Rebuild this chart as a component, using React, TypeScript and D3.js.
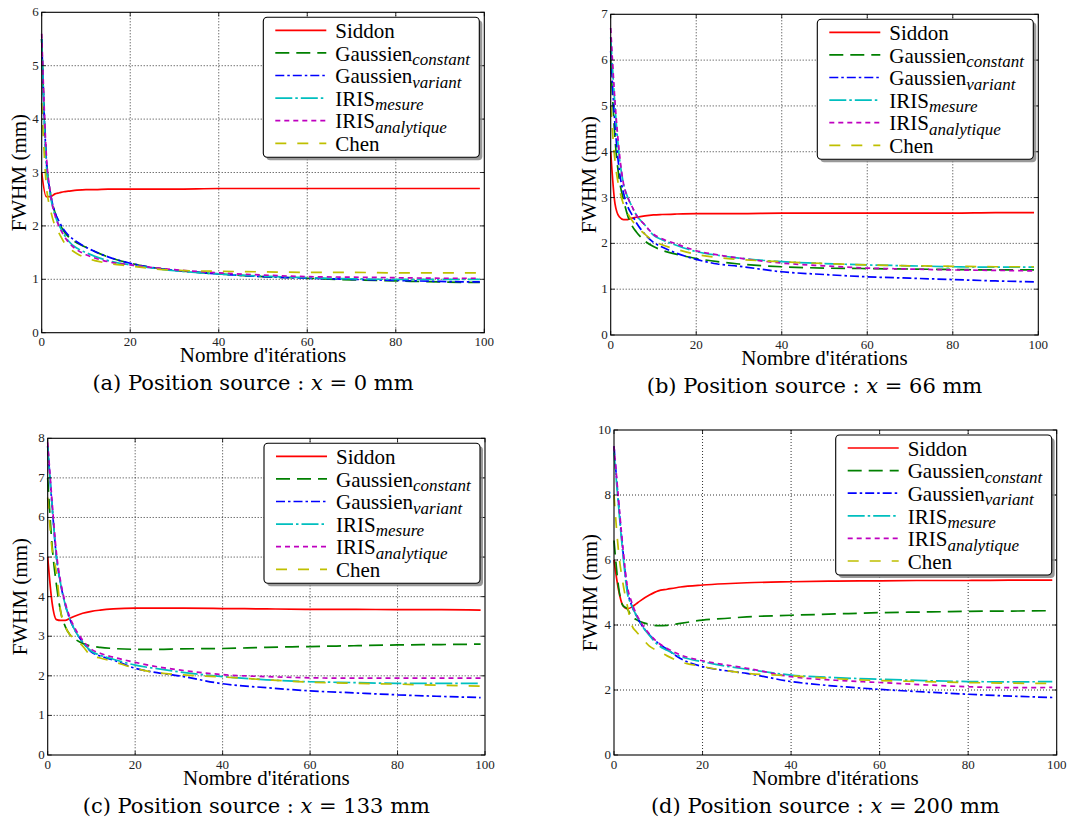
import React from 'react';
import * as d3 from 'd3';

// Iterations at which values were read
const ITER = [0, 1, 2, 3, 4, 5, 6, 8, 10, 12, 15, 20, 25, 30, 40, 50, 60, 70, 80, 90, 99];

const X_TICKS = [0, 20, 40, 60, 80, 100];
const SERIES_NAMES = ['Siddon', 'Gaussien', 'Gaussien', 'IRIS', 'IRIS', 'Chen'];
const SERIES_SUBS = ['', 'constant', 'variant', 'mesure', 'analytique', ''];
const X_LABEL = "Nombre d'itérations";
const Y_LABEL = 'FWHM (mm)';

// (a) x = 0 mm
const A_SIDDON = [3.0, 2.55, 2.55, 2.6, 2.62, 2.64, 2.65, 2.67, 2.68, 2.68, 2.69, 2.69, 2.69, 2.69, 2.7, 2.7, 2.7, 2.7, 2.7, 2.7, 2.7];
const A_GCONST = [5.5, 3.3, 2.6, 2.25, 2.05, 1.9, 1.8, 1.68, 1.6, 1.52, 1.42, 1.3, 1.22, 1.17, 1.1, 1.05, 1.02, 0.99, 0.97, 0.95, 0.94];
const A_GVAR = [5.5, 3.3, 2.6, 2.25, 2.07, 1.93, 1.83, 1.7, 1.6, 1.52, 1.42, 1.3, 1.22, 1.17, 1.1, 1.05, 1.02, 1.0, 0.98, 0.96, 0.95];
const A_IRISM = [5.5, 3.2, 2.55, 2.2, 2.0, 1.85, 1.72, 1.58, 1.5, 1.43, 1.35, 1.27, 1.21, 1.16, 1.1, 1.06, 1.03, 1.01, 1.0, 1.0, 1.0];
const A_IRISA = [5.6, 3.4, 2.6, 2.2, 1.98, 1.82, 1.7, 1.55, 1.46, 1.4, 1.33, 1.27, 1.22, 1.18, 1.12, 1.08, 1.05, 1.04, 1.03, 1.02, 1.02];
const A_CHEN = [4.3, 2.8, 2.3, 2.0, 1.85, 1.7, 1.6, 1.48, 1.4, 1.35, 1.3, 1.25, 1.2, 1.17, 1.15, 1.14, 1.13, 1.13, 1.12, 1.12, 1.12];

// (b) x = 66 mm
const B_SIDDON = [4.0, 2.87, 2.58, 2.52, 2.52, 2.55, 2.57, 2.6, 2.62, 2.63, 2.64, 2.65, 2.65, 2.65, 2.66, 2.66, 2.66, 2.66, 2.66, 2.67, 2.67];
const B_GCONST = [6.0, 4.3, 3.4, 2.95, 2.6, 2.38, 2.25, 2.05, 1.93, 1.85, 1.77, 1.67, 1.6, 1.55, 1.49, 1.46, 1.45, 1.44, 1.43, 1.42, 1.42];
const B_GVAR = [6.2, 4.6, 3.6, 3.1, 2.8, 2.62, 2.45, 2.2, 2.02, 1.92, 1.8, 1.65, 1.55, 1.5, 1.38, 1.32, 1.27, 1.24, 1.21, 1.18, 1.16];
const B_IRISM = [6.5, 5.0, 3.9, 3.3, 3.0, 2.8, 2.62, 2.4, 2.18, 2.08, 1.97, 1.82, 1.74, 1.68, 1.6, 1.56, 1.53, 1.51, 1.49, 1.48, 1.48];
const B_IRISA = [6.7, 5.1, 4.0, 3.3, 3.0, 2.8, 2.62, 2.4, 2.2, 2.1, 2.0, 1.84, 1.75, 1.68, 1.57, 1.51, 1.46, 1.44, 1.42, 1.41, 1.4];
const B_CHEN = [5.0, 3.8, 3.2, 2.85, 2.65, 2.5, 2.38, 2.2, 2.05, 1.97, 1.88, 1.76, 1.69, 1.65, 1.6, 1.56, 1.53, 1.51, 1.5, 1.49, 1.49];

// (c) x = 133 mm
const C_SIDDON = [5.0, 3.85, 3.42, 3.4, 3.4, 3.45, 3.5, 3.58, 3.63, 3.66, 3.69, 3.71, 3.71, 3.71, 3.7, 3.69, 3.68, 3.68, 3.67, 3.67, 3.66];
const C_GCONST = [7.0, 5.3, 4.3, 3.6, 3.25, 3.05, 2.95, 2.82, 2.75, 2.72, 2.69, 2.67, 2.67, 2.68, 2.69, 2.72, 2.74, 2.76, 2.78, 2.79, 2.8];
const C_GVAR = [7.8, 6.3, 5.0, 4.3, 3.8, 3.45, 3.2, 2.85, 2.6, 2.5, 2.4, 2.19, 2.08, 2.0, 1.8, 1.7, 1.62, 1.57, 1.52, 1.48, 1.45];
const C_IRISM = [7.8, 6.3, 5.0, 4.3, 3.8, 3.45, 3.2, 2.85, 2.62, 2.52, 2.42, 2.27, 2.18, 2.1, 1.98, 1.9, 1.85, 1.83, 1.81, 1.81, 1.81];
const C_IRISA = [7.9, 6.4, 5.1, 4.35, 3.85, 3.5, 3.25, 2.9, 2.67, 2.57, 2.47, 2.34, 2.23, 2.15, 2.03, 1.98, 1.95, 1.94, 1.94, 1.94, 1.94];
const C_CHEN = [6.5, 5.2, 4.6, 3.6, 3.25, 3.05, 2.95, 2.75, 2.5, 2.45, 2.36, 2.19, 2.08, 2.03, 1.97, 1.9, 1.84, 1.81, 1.79, 1.76, 1.74];

// (d) x = 200 mm
const D_SIDDON = [6.0, 5.1, 4.6, 4.5, 4.55, 4.65, 4.75, 4.92, 5.05, 5.1, 5.17, 5.23, 5.27, 5.3, 5.33, 5.35, 5.36, 5.37, 5.37, 5.38, 5.38];
const D_GCONST = [6.6, 5.2, 4.6, 4.5, 4.25, 4.17, 4.1, 4.02, 3.98, 3.99, 4.05, 4.15, 4.2, 4.25, 4.3, 4.34, 4.38, 4.4, 4.42, 4.43, 4.44];
const D_GVAR = [9.5, 7.8, 6.3, 5.1, 4.6, 4.3, 4.05, 3.7, 3.44, 3.25, 2.97, 2.72, 2.6, 2.51, 2.26, 2.12, 2.02, 1.94, 1.87, 1.81, 1.77];
const D_IRISM = [9.3, 7.7, 6.2, 5.0, 4.6, 4.3, 4.05, 3.68, 3.38, 3.22, 3.03, 2.87, 2.74, 2.64, 2.46, 2.38, 2.33, 2.29, 2.26, 2.25, 2.26];
const D_IRISA = [9.5, 7.9, 6.4, 5.2, 4.7, 4.35, 4.1, 3.72, 3.45, 3.28, 3.08, 2.9, 2.78, 2.67, 2.41, 2.3, 2.23, 2.16, 2.1, 2.07, 2.08];
const D_CHEN = [8.0, 6.3, 5.3, 4.6, 4.0, 3.8, 3.65, 3.35, 3.2, 3.05, 2.87, 2.72, 2.6, 2.51, 2.44, 2.35, 2.29, 2.26, 2.23, 2.21, 2.2];

const STYLES = [
  { color: '#ff0000', dash: '' },
  { color: '#008000', dash: '14,7' },
  { color: '#0000ff', dash: '9,3,2.5,3' },
  { color: '#00bfbf', dash: '17,3,2.5,3' },
  { color: '#bf00bf', dash: '5,4' },
  { color: '#bfbf00', dash: '11,11' },
];

const PANELS = [
  { id: 'a', caption: 'Position source : ', pos: '0', yMax: 6, left: 41.7, right: 484.3, top: 12.3, bottom: 332.7, yLabelX: 26,
    series: [A_SIDDON, A_GCONST, A_GVAR, A_IRISM, A_IRISA, A_CHEN] },
  { id: 'b', caption: 'Position source : ', pos: '66', yMax: 7, left: 610.7, right: 1038.3, top: 14.3, bottom: 335, yLabelX: 596,
    series: [B_SIDDON, B_GCONST, B_GVAR, B_IRISM, B_IRISA, B_CHEN] },
  { id: 'c', caption: 'Position source : ', pos: '133', yMax: 8, left: 47.7, right: 485, top: 438.3, bottom: 755, yLabelX: 26.5,
    series: [C_SIDDON, C_GCONST, C_GVAR, C_IRISM, C_IRISA, C_CHEN] },
  { id: 'd', caption: 'Position source : ', pos: '200', yMax: 10, left: 614, right: 1056.7, top: 430, bottom: 755, yLabelX: 597,
    series: [D_SIDDON, D_GCONST, D_GVAR, D_IRISM, D_IRISA, D_CHEN] },
];

const SERIF = "'Liberation Serif', 'Times New Roman', serif";
const CAP_FONT = "'DejaVu Serif', serif";

function Panel({ p }: { p: any }) {
  const x = d3.scaleLinear().domain([0, 100]).range([p.left, p.right]);
  const y = d3.scaleLinear().domain([0, p.yMax]).range([p.bottom, p.top]);
  const yTicks = d3.range(0, p.yMax + 1, p.yMax === 10 ? 2 : 1);
  const line = d3
    .line<number>()
    .x((_, i) => x(ITER[i]))
    .y((v) => y(v))
    .curve(d3.curveMonotoneX);
  const cx = (p.left + p.right) / 2;
  const cy = (p.top + p.bottom) / 2;
  const legW = 216;
  const legH = 140;
  const lx = p.right - 5 - legW;
  const ly = p.top + 5;
  const tickLen = 4;
  return (
    <g>
      {/* grid */}
      {X_TICKS.slice(1, -1).map((t) => (
        <line key={'gx' + t} x1={x(t)} x2={x(t)} y1={p.top} y2={p.bottom} stroke="#000" strokeWidth={0.8} strokeDasharray="1,2" />
      ))}
      {yTicks.slice(1, -1).map((t) => (
        <line key={'gy' + t} x1={p.left} x2={p.right} y1={y(t)} y2={y(t)} stroke="#000" strokeWidth={0.8} strokeDasharray="1,2" />
      ))}
      {/* series */}
      {p.series.map((vals: number[], i: number) => (
        <path key={'s' + i} d={line(vals) || ''} fill="none" stroke={STYLES[i].color} strokeWidth={1.7}
          strokeDasharray={STYLES[i].dash || undefined} />
      ))}
      {/* ticks */}
      {X_TICKS.map((t) => (
        <g key={'tx' + t}>
          <line x1={x(t)} x2={x(t)} y1={p.bottom} y2={p.bottom - tickLen} stroke="#000" strokeWidth={0.8} />
          <line x1={x(t)} x2={x(t)} y1={p.top} y2={p.top + tickLen} stroke="#000" strokeWidth={0.8} />
          <text x={x(t)} y={p.bottom + 13.5} textAnchor="middle" fontFamily={SERIF} fontSize={13} fill="#222">{t}</text>
        </g>
      ))}
      {yTicks.map((t) => (
        <g key={'ty' + t}>
          <line x1={p.left} x2={p.left + tickLen} y1={y(t)} y2={y(t)} stroke="#000" strokeWidth={0.8} />
          <line x1={p.right} x2={p.right - tickLen} y1={y(t)} y2={y(t)} stroke="#000" strokeWidth={0.8} />
          <text x={p.left - 3} y={y(t) + 4} textAnchor="end" fontFamily={SERIF} fontSize={13} fill="#222">{t}</text>
        </g>
      ))}
      {/* frame */}
      <rect x={p.left} y={p.top} width={p.right - p.left} height={p.bottom - p.top} fill="none" stroke="#000" strokeWidth={1.1} />
      {/* legend */}
      <rect x={lx + 3} y={ly + 3} width={legW} height={legH} rx={4} fill="#7f7f7f" opacity={0.8} />
      <rect x={lx} y={ly} width={legW} height={legH} rx={4} fill="#fff" stroke="#000" strokeWidth={1.1} />
      {SERIES_NAMES.map((name, i) => {
        const ry = ly + 13 + i * 22.6;
        return (
          <g key={'l' + i}>
            <line x1={lx + 12} x2={lx + 63} y1={ry} y2={ry} stroke={STYLES[i].color} strokeWidth={1.7}
              strokeDasharray={STYLES[i].dash || undefined} />
            <text x={lx + 72} y={ry + 7.7} fontFamily={SERIF} fontSize={21} fill="#000">
              {name}
              {SERIES_SUBS[i] ? (
                <tspan dy={4.5} fontSize={17} fontStyle="italic">{SERIES_SUBS[i]}</tspan>
              ) : null}
            </text>
          </g>
        );
      })}
      {/* axis labels */}
      <text x={cx} y={p.bottom + 29.5} textAnchor="middle" fontFamily={SERIF} fontSize={21} fill="#000">{X_LABEL}</text>
      <text transform={`translate(${p.yLabelX},${cy}) rotate(-90)`} textAnchor="middle" fontFamily={SERIF} fontSize={21} fill="#000">{Y_LABEL}</text>
      {/* caption */}
      <text x={cx - 10} y={p.bottom + 57.5} textAnchor="middle" fontFamily={CAP_FONT} fontSize={21} fill="#000">
        {`(${p.id}) ${p.caption}`}
        <tspan fontStyle="italic">x</tspan>
        {` = ${p.pos} mm`}
      </text>
    </g>
  );
}

export default function App() {
  return (
    <svg width={1071} height={818} style={{ position: 'absolute', left: 0, top: 0, background: '#fff' }}>
      <rect x={0} y={0} width={1071} height={818} fill="#fff" />
      {PANELS.map((p) => (
        <Panel key={p.id} p={p} />
      ))}
    </svg>
  );
}
